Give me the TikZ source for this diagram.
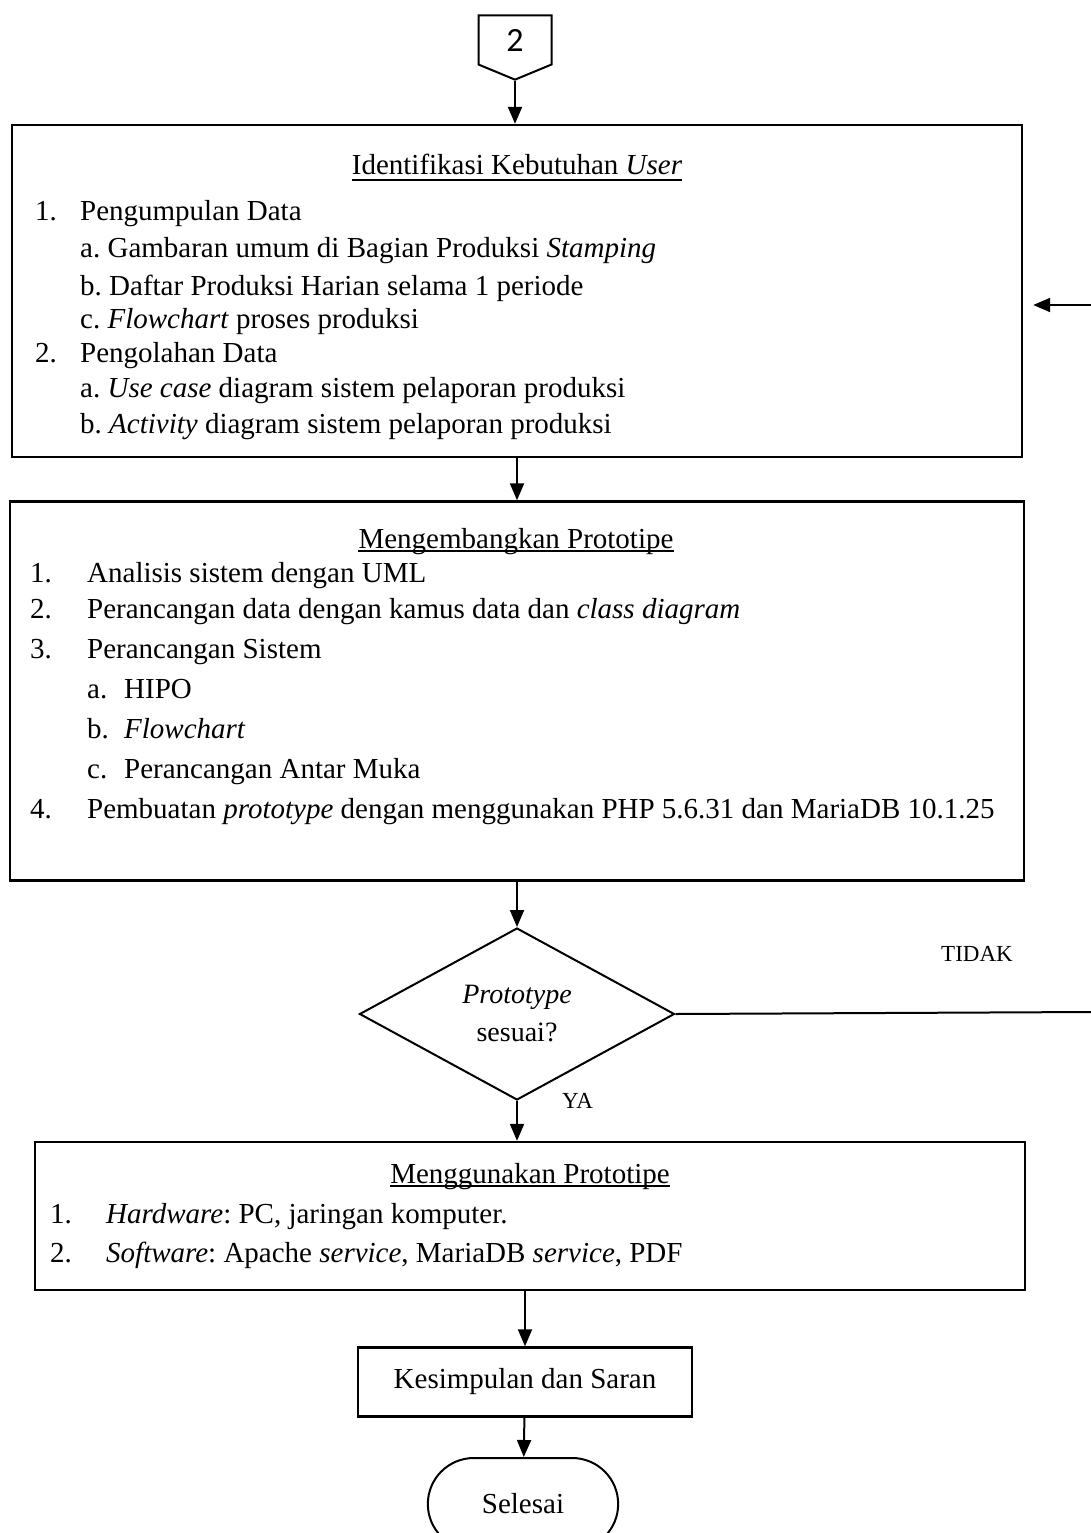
\documentclass[tikz,border=0pt]{standalone}
\usepackage{fontspec}
\setmainfont{Liberation Serif}
\newfontfamily\numfont{Carlito}
\frenchspacing
\usetikzlibrary{arrows.meta,shapes.geometric,shapes.symbols,shapes.misc}

\begin{document}
\begin{tikzpicture}[x=1pt,y=-1pt,
    box/.style={draw, line width=2.4pt, inner sep=0pt},
    arr/.style={line width=2pt, -{Triangle[length=17pt,width=14pt]}},
    txt/.style={anchor=base west, inner sep=0pt, font=\fontsize{29}{34}\selectfont},
    ttl/.style={anchor=base, inner sep=0pt, font=\fontsize{29}{34}\selectfont},
    lbl/.style={inner sep=0pt, font=\fontsize{23}{28}\selectfont}]
      \useasboundingbox (0,0) rectangle (1091,1533);

      % Off-page connector
      \node[draw, signal, signal to=south, signal pointer angle=135,
        minimum width=73pt, minimum height=54pt, line width=2pt,
        font=\numfont\fontsize{34}{34}\selectfont] (conn) at (515,40) {2};

      % Identifikasi kebutuhan user
      \node[box, minimum width=1010pt, minimum height=332pt] (ident) at (517,291) {};
      \node[ttl] (ident-t) at (517,175) {Identifikasi Kebutuhan \textit{User}};
      \draw[line width=1.2pt] ([yshift=-5pt]ident-t.base west) -- ([yshift=-5pt]ident-t.base east);
      \node[txt] (i1) at (35,220) {\makebox[45pt][l]{1.}Pengumpulan Data};
      \node[txt] (i1a) at (80,257) {a. Gambaran umum di Bagian Produksi \textit{Stamping}};
      \node[txt] (i1b) at (80,295) {b. Daftar Produksi Harian selama 1 periode};
      \node[txt] (i1c) at (80,328) {c. \textit{Flowchart} proses produksi};
      \node[txt] (i2) at (35,362) {\makebox[45pt][l]{2.}Pengolahan Data};
      \node[txt] (i2a) at (80,397) {a. \textit{Use case} diagram sistem pelaporan produksi};
      \node[txt] (i2b) at (80,433) {b. \textit{Activity} diagram sistem pelaporan produksi};

      % Mengembangkan prototipe
      \node[box, minimum width=1014pt, minimum height=379pt] (proto) at (517,691) {};
      \node[ttl] (proto-t) at (516,548) {Mengembangkan Prototipe};
      \draw[line width=1.2pt] ([yshift=-3pt]proto-t.base west) -- ([yshift=-3pt]proto-t.base east);
      \node[txt] (p1) at (30,582) {\makebox[57pt][l]{1.}Analisis sistem dengan UML};
      \node[txt] (p2) at (30,618) {\makebox[57pt][l]{2.}Perancangan data dengan kamus data dan \textit{class diagram}};
      \node[txt] (p3) at (30,658) {\makebox[57pt][l]{3.}Perancangan Sistem};
      \node[txt] (p3a) at (87,698) {\makebox[37pt][l]{a.}HIPO};
      \node[txt] (p3b) at (87,738) {\makebox[37pt][l]{b.}\textit{Flowchart}};
      \node[txt] (p3c) at (87,778) {\makebox[37pt][l]{c.}Perancangan Antar Muka};
      \node[txt] (p4) at (30,818) {\makebox[57pt][l]{4.}Pembuatan \textit{prototype} dengan menggunakan PHP 5.6.31 dan MariaDB 10.1.25};

      % Decision
      \node[draw, diamond, aspect=1.83, minimum width=315pt, minimum height=172pt,
        inner sep=0pt, line width=2pt, align=center,
        font=\fontsize{28}{38}\selectfont] (cek) at (517,1014) {\textit{Prototype}\\sesuai?};
      \node[lbl, anchor=base west] (ya) at (562,1108) {YA};
      \node[lbl, anchor=base] (tidak) at (977,961) {TIDAK};

      % Menggunakan prototipe
      \node[box, minimum width=990pt, minimum height=148pt] (use) at (530,1216) {};
      \node[ttl] (use-t) at (530,1183) {Menggunakan Prototipe};
      \draw[line width=1.2pt] ([yshift=-3pt]use-t.base west) -- ([yshift=-3pt]use-t.base east);
      \node[txt] (u1) at (50,1223) {\makebox[56pt][l]{1.}\textit{Hardware}: PC, jaringan komputer.};
      \node[txt] (u2) at (50,1262) {\makebox[56pt][l]{2.}\textit{Software}: Apache \textit{service}, MariaDB \textit{service}, PDF};

      % Kesimpulan and terminator
      \node[box, minimum width=334pt, minimum height=69pt, font=\fontsize{29}{34}\selectfont] (concl) at (525,1382) {Kesimpulan dan Saran};
      \node[draw, rounded rectangle, minimum width=197pt, minimum height=92pt,
        line width=2pt, font=\fontsize{29}{34}\selectfont] (end) at (523,1504) {Selesai};

      % Flow
      \draw[arr] (conn.south) -- (conn.south |- ident.north);
      \draw[arr] (ident) -- (proto);
      \draw[arr] (proto) -- (cek);
      \draw[arr] (cek.south) -- (cek.south |- use.north);
      \draw[arr] (concl.north |- use.south) -- (concl);
      \draw[arr] (concl) -- (end);

      % Loop back when the prototype is rejected
      \coordinate (tidak-end) at (1091,1012);
      \coordinate (back) at (1091,305);
      \draw[line width=2pt] (cek.east) -- (tidak-end);
      \draw[arr, shorten >=10pt] (back) -- (back -| ident.east);
    \end{tikzpicture}
\end{document}
